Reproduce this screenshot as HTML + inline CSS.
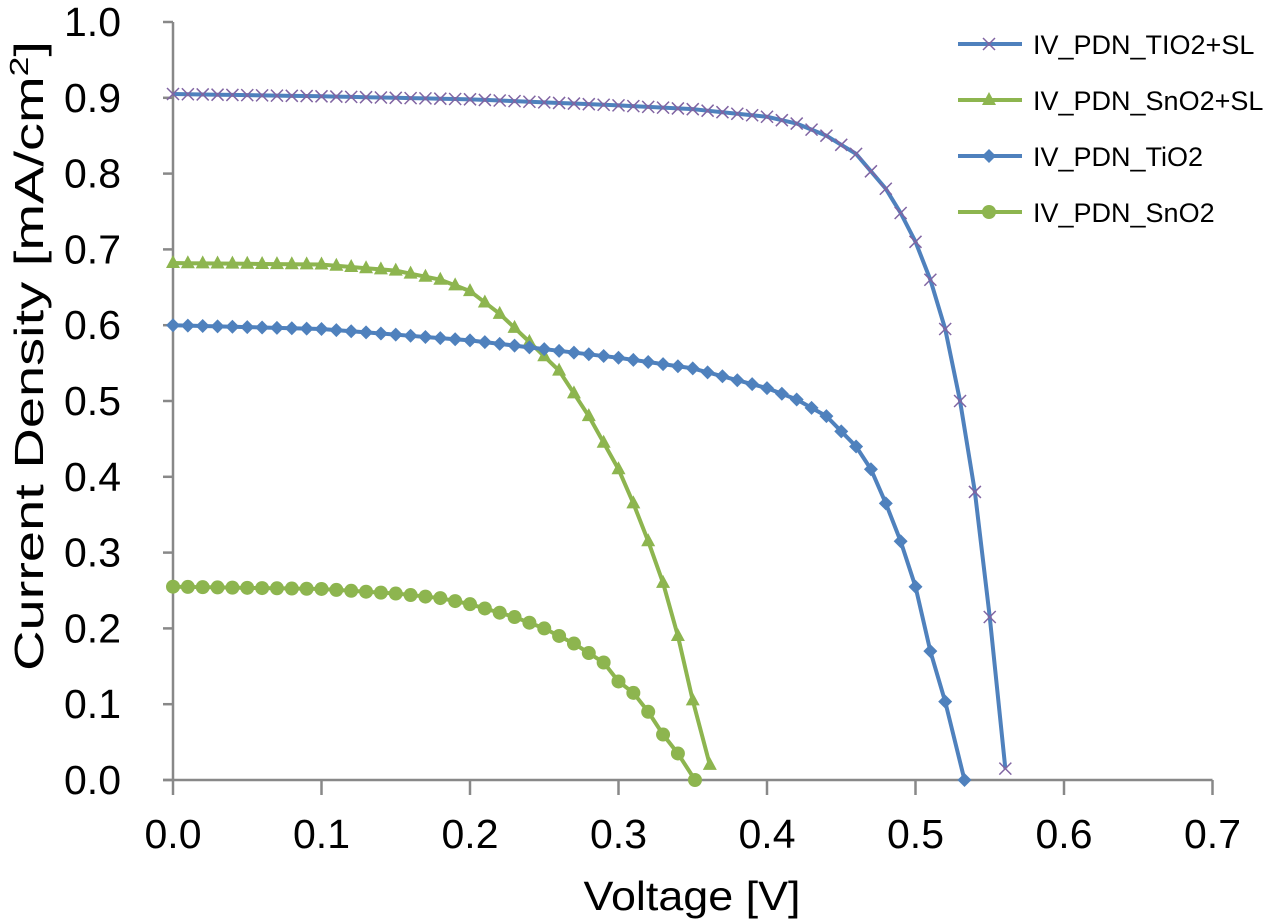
<!DOCTYPE html>
<html><head><meta charset="utf-8"><style>
html,body{margin:0;padding:0;background:#fff;}
svg{display:block;font-family:"Liberation Sans",sans-serif;}
</style></head><body>
<svg id="c" width="1263" height="923" viewBox="0 0 1263 923" xmlns="http://www.w3.org/2000/svg">
<rect width="1263" height="923" fill="#fff"/>
<g id="axes" stroke="#888" stroke-width="2.5"></g>
<g id="labels" font-size="41" fill="#000"></g>
<g id="series"></g>
<text x="0" y="0" font-size="41" text-anchor="middle" textLength="630" lengthAdjust="spacingAndGlyphs" transform="translate(43 356) rotate(-90)">Current Density [mA/cm<tspan dy="-15" font-size="26">2</tspan><tspan dy="15">]</tspan></text>
<text x="692" y="910" font-size="41" text-anchor="middle" textLength="217" lengthAdjust="spacingAndGlyphs">Voltage [V]</text>
<g id="legend" font-size="27"></g>
</svg>
<script>
const NS="http://www.w3.org/2000/svg";
const X0=173,XS=1485,Y0=780,YS=758;
const px=v=>X0+v*XS, py=v=>Y0-v*YS;
function el(p,t,a){const e=document.createElementNS(NS,t);for(const k in a)e.setAttribute(k,a[k]);p.appendChild(e);return e;}
const ax=document.getElementById('axes'),lb=document.getElementById('labels');
el(ax,'line',{x1:X0,y1:py(1),x2:X0,y2:Y0});
el(ax,'line',{x1:X0-10,y1:Y0,x2:px(0.7),y2:Y0});
for(let i=0;i<=10;i++){const y=py(i/10);el(ax,'line',{x1:X0-10,y1:y,x2:X0,y2:y});
 el(lb,'text',{x:121,y:y+14,'text-anchor':'end'}).textContent=(i/10).toFixed(1);}
for(let i=0;i<=7;i++){const x=px(i/10);el(ax,'line',{x1:x,y1:Y0,x2:x,y2:Y0+15});
 el(lb,'text',{x:x,y:848,'text-anchor':'middle'}).textContent=(i/10).toFixed(1);}
function interp(k,v){for(let i=0;i<k.length-1;i++){if(v<=k[i+1][0]){const t=(v-k[i][0])/(k[i+1][0]-k[i][0]);return k[i][1]+t*(k[i+1][1]-k[i][1]);}}return k[k.length-1][1];}
function pts(k){const end=k[k.length-1][0];const r=[];for(let v=0;v<end-0.003;v+=0.01)r.push([v,interp(k,v)]);r.push([end,k[k.length-1][1]]);return r;}
const blue="#4f81bd",green="#8db54f";
const S=[
 {c:blue,m:'x',k:[[0,0.905],[0.1,0.902],[0.2,0.898],[0.3,0.89],[0.35,0.885],[0.4,0.875],[0.42,0.866],[0.44,0.85],[0.46,0.826],[0.48,0.78],[0.49,0.748],[0.5,0.71],[0.51,0.66],[0.52,0.595],[0.53,0.5],[0.54,0.38],[0.55,0.215],[0.5605,0.015]]},
 {c:green,m:'t',k:[[0,0.682],[0.1,0.68],[0.15,0.672],[0.18,0.66],[0.2,0.645],[0.22,0.615],[0.24,0.578],[0.26,0.54],[0.28,0.48],[0.3,0.41],[0.31,0.365],[0.32,0.315],[0.33,0.26],[0.34,0.19],[0.35,0.105],[0.3615,0.02]]},
 {c:blue,m:'d',k:[[0,0.6],[0.1,0.595],[0.2,0.58],[0.3,0.557],[0.35,0.543],[0.4,0.517],[0.42,0.502],[0.44,0.48],[0.46,0.44],[0.47,0.41],[0.48,0.365],[0.49,0.315],[0.5,0.255],[0.51,0.17],[0.525,0.07],[0.533,0.0]]},
 {c:green,m:'o',k:[[0,0.255],[0.1,0.252],[0.15,0.246],[0.18,0.24],[0.2,0.232],[0.23,0.215],[0.25,0.2],[0.27,0.18],[0.29,0.155],[0.3,0.13],[0.31,0.115],[0.32,0.09],[0.33,0.06],[0.34,0.035],[0.3515,0.0]]}
];
function marker(g,m,x,y,c){
 if(m==='x'){el(g,'path',{d:`M${x-6} ${y-6}L${x+6} ${y+6}M${x-6} ${y+6}L${x+6} ${y-6}`,stroke:'#8064a2','stroke-width':1.5,fill:'none'});}
 else if(m==='t'){el(g,'polygon',{points:`${x},${y-8} ${x+7},${y+5} ${x-7},${y+5}`,fill:c});}
 else if(m==='d'){el(g,'polygon',{points:`${x},${y-7} ${x+7},${y} ${x},${y+7} ${x-7},${y}`,fill:c});}
 else el(g,'circle',{cx:x,cy:y,r:7,fill:c});
}
const sg=document.getElementById('series');
for(const s of S){const p=pts(s.k);const g=el(sg,'g',{});
 el(g,'polyline',{points:p.map(q=>px(q[0])+','+py(q[1])).join(' '),fill:'none',stroke:s.c,'stroke-width':4,'stroke-linejoin':'round'});
 for(const q of p)marker(g,s.m,px(q[0]),py(q[1]),s.c);}
const lg=document.getElementById('legend');
const names=["IV_PDN_TIO2+SL","IV_PDN_SnO2+SL","IV_PDN_TiO2","IV_PDN_SnO2"];
names.forEach((n,i)=>{const y=44+i*56;const s=S[i];
 el(lg,'line',{x1:958,y1:y,x2:1022,y2:y,stroke:s.c,'stroke-width':4});
 marker(lg,s.m,989,y,s.c);
 el(lg,'text',{x:1033,y:y+10}).textContent=n;});
</script>
</body></html>
